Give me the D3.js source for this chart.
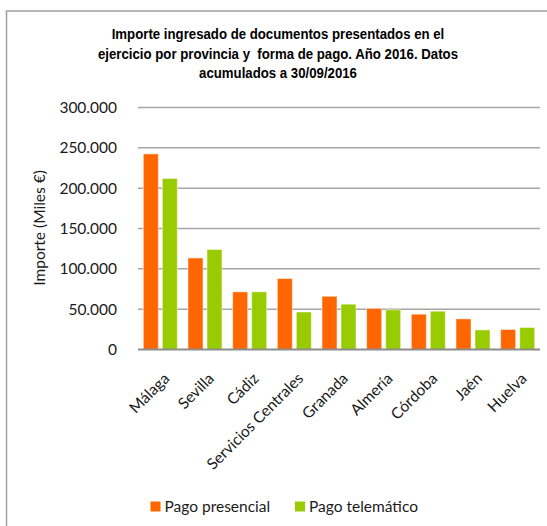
<!DOCTYPE html>
<html><head><meta charset="utf-8">
<script src="https://cdn.jsdelivr.net/npm/d3@7"></script>
<style>body{margin:0;background:#fff}svg{display:block}</style>
</head><body>
<script>
const categories = ["Málaga","Sevilla","Cádiz","Servicios Centrales","Granada","Almería","Córdoba","Jaén","Huelva"];
const seriesNames = ["Pago presencial","Pago telemático"];
const presencial = [242500, 113500, 71500, 88000, 66000, 51000, 43800, 38000, 24800];
const telematico = [212000, 124000, 71500, 46500, 56200, 49200, 47500, 24300, 27300];
const yTicks = [0, 50000, 100000, 150000, 200000, 250000, 300000];
const titleLines = ["Importe ingresado de documentos presentados en el","ejercicio por provincia y  forma de pago. Año 2016. Datos","acumulados a 30/09/2016"];
const yTitle = "Importe (Miles €)";
const colors = ["#FF6600","#99CC00"];

const W=547,H=526;
const svg=d3.select("body").append("svg").attr("width",W).attr("height",H);
svg.append("rect").attr("x",6.5).attr("y",11).attr("width",W).attr("height",H).attr("fill","#fff").attr("stroke","#A0A0A0").attr("stroke-width",1.5);

const fnt="Lato, 'Open Sans', sans-serif";
const t=svg.append("text").attr("text-anchor","middle").attr("transform","translate(278,0) scale(0.87,1)")
  .attr("font-family","'Liberation Sans Narrow','Arial Narrow','Liberation Sans',sans-serif").attr("font-weight","bold").attr("font-size",15.2).attr("fill","#000");
titleLines.forEach((l,i)=>t.append("tspan").attr("x",0).attr("y",39.5+i*19.5).style("white-space","pre").text(l));

const pL=138,pR=540,pT=107.5,pB=349.5;
const y=d3.scaleLinear().domain([0,300000]).range([pB,pT]);
const x0=d3.scaleBand().domain(categories).range([pL,pR]).padding(0);
const x1=d3.scaleBand().domain(seriesNames).range([0,x0.bandwidth()]).paddingInner(0.21).paddingOuter(0.28);

const fmt=d=>d3.format(",")(d).replace(/,/g,".");
svg.append("g").selectAll("line").data(yTicks.filter(d=>d>0)).join("line")
  .attr("x1",pL).attr("x2",pR).attr("y1",d=>y(d)).attr("y2",d=>y(d))
  .attr("stroke","#A6A6A6").attr("stroke-width",1.5);

const yAxis=svg.append("g").attr("transform",`translate(${pL},0)`).call(d3.axisLeft(y).tickValues(yTicks).tickFormat(fmt).tickSize(0).tickPadding(21));
yAxis.select(".domain").remove();
yAxis.selectAll("text").attr("font-family",fnt).attr("font-size",15.5).attr("fill","#1a1a1a");

const series=[presencial,telematico];
const g=svg.append("g");
seriesNames.forEach((s,si)=>{
  g.append("g").selectAll("rect").data(categories).join("rect")
   .attr("x",(c)=>x0(c)+x1(s)).attr("width",x1.bandwidth())
   .attr("y",(c,i)=>y(series[si][i])).attr("height",(c,i)=>pB-y(series[si][i]))
   .attr("fill",colors[si]).attr("stroke","rgba(255,255,255,0.5)").attr("stroke-width",1);
});

svg.append("line").attr("x1",pL).attr("x2",pR).attr("y1",pB).attr("y2",pB).attr("stroke","#8C8C8C").attr("stroke-width",2);

const xAxis=svg.append("g").attr("transform",`translate(0,${pB})`).call(d3.axisBottom(x0).tickSize(0).tickFormat(d=>d));
xAxis.select(".domain").remove();
xAxis.selectAll("text").attr("font-family",fnt).attr("font-size",15.5).attr("fill","#1a1a1a")
  .attr("text-anchor","end").attr("dy",0).attr("y",0)
  .attr("transform","translate(10,30) rotate(-45)");

svg.append("text").attr("transform","translate(45,228) rotate(-90)").attr("text-anchor","middle")
  .attr("font-family",fnt).attr("font-size",15.5).attr("fill","#1a1a1a").text(yTitle);

const legX=[150.5,295];
seriesNames.forEach((s,i)=>{
  svg.append("rect").attr("x",legX[i]).attr("y",501.5).attr("width",10).attr("height",10).attr("fill",colors[i]);
  svg.append("text").attr("x",legX[i]+14).attr("y",512).attr("font-family",fnt).attr("font-size",15.5).attr("fill","#1a1a1a").text(s);
});
</script>
</body></html>
